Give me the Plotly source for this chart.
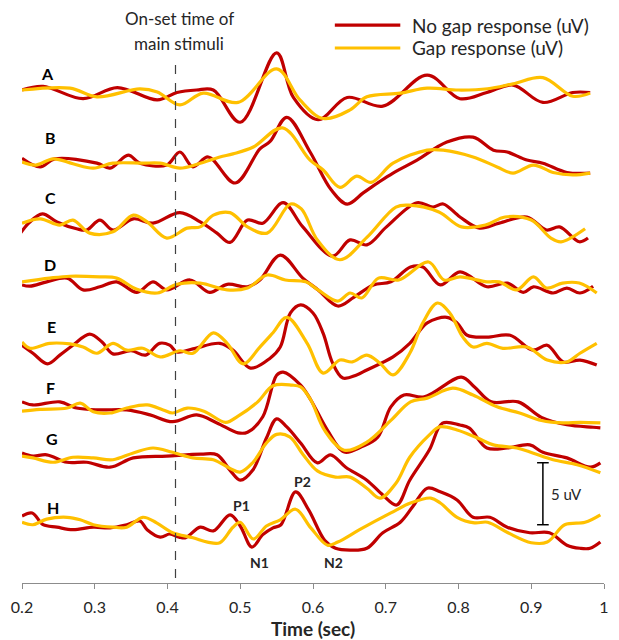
import plotly.graph_objects as go

# ---------------- data (uV relative to each row's baseline) ----------------
rows = ["A", "B", "C", "D", "E", "F", "G", "H"]
row_baseline_uV = [39.76, 34.11, 28.87, 24.19, 19.03, 14.11, 10.24, 4.60]

A_nogap_t = [0.200, 0.229, 0.284, 0.331, 0.386, 0.413, 0.440, 0.463, 0.500, 0.550, 0.573, 0.607, 0.647, 0.696, 0.757, 0.802, 0.839, 0.875, 0.916, 0.957, 0.981]
A_nogap_uV = [0.0, 0.3, -0.7, 0.2, -0.8, -0.2, 0.0, 0.0, -2.6, 3.0, -0.6, -2.4, -0.6, -1.3, 1.2, -0.7, -0.2, 0.4, -1.0, -0.2, -0.2]
A_gap_t = [0.200, 0.266, 0.303, 0.362, 0.386, 0.417, 0.449, 0.497, 0.550, 0.582, 0.614, 0.651, 0.674, 0.720, 0.757, 0.800, 0.840, 0.875, 0.916, 0.957, 0.981]
A_gap_uV = [0.0, 0.15, -0.55, 0.1, -0.15, -1.2, -0.25, -1.0, 1.7, -0.8, -2.3, -1.6, -0.55, -0.25, 0.15, 0.0, 0.1, 0.5, 1.0, -0.5, -0.25]

B_nogap_t = [0.200, 0.225, 0.245, 0.303, 0.321, 0.346, 0.362, 0.399, 0.417, 0.435, 0.456, 0.493, 0.527, 0.541, 0.564, 0.596, 0.625, 0.647, 0.669, 0.690, 0.710, 0.743, 0.784, 0.820, 0.848, 0.867, 0.894, 0.916, 0.949, 0.981]
B_nogap_uV = [0.15, -0.55, 0.1, -0.25, -0.65, 0.4, -0.25, -0.4, 0.65, -0.55, 0.25, -1.85, 0.9, 1.5, 3.45, 0.65, -2.4, -3.55, -2.65, -1.8, -1.05, 0.0, 1.45, 1.85, 0.8, 0.65, 0.0, -0.25, -1.0, -1.05]
B_gap_t = [0.200, 0.219, 0.243, 0.270, 0.298, 0.325, 0.366, 0.390, 0.417, 0.445, 0.472, 0.490, 0.518, 0.558, 0.596, 0.614, 0.637, 0.660, 0.680, 0.710, 0.757, 0.779, 0.820, 0.853, 0.875, 0.903, 0.930, 0.957, 0.981]
B_gap_uV = [-0.15, -0.4, 0.1, -0.3, -0.65, -0.25, -0.25, -0.25, -0.65, -0.25, 0.25, 0.5, 1.05, 2.6, 0.0, -0.8, -2.2, -1.3, -1.8, -0.25, 0.8, 0.8, 0.25, -0.55, -1.05, -0.4, -1.0, -1.2, -1.05]

C_nogap_t = [0.198, 0.210, 0.228, 0.248, 0.275, 0.289, 0.307, 0.325, 0.353, 0.380, 0.417, 0.445, 0.468, 0.486, 0.510, 0.531, 0.559, 0.586, 0.627, 0.651, 0.674, 0.701, 0.743, 0.765, 0.779, 0.802, 0.829, 0.856, 0.894, 0.921, 0.939, 0.966, 0.978]
C_nogap_uV = [-0.65, 0.2, 0.9, 0.25, -0.3, -0.4, 0.4, -0.4, 0.5, 0.15, 1.0, 0.25, -0.65, -1.4, 0.4, 0.15, 1.8, -0.15, -2.5, -1.2, -1.6, -0.15, 1.8, 1.45, 1.7, 0.65, -0.25, 0.15, 0.65, -0.4, -0.15, -1.35, -1.05]
C_gap_t = [0.200, 0.225, 0.252, 0.270, 0.293, 0.325, 0.353, 0.372, 0.399, 0.427, 0.445, 0.463, 0.486, 0.510, 0.537, 0.569, 0.584, 0.606, 0.637, 0.674, 0.714, 0.732, 0.773, 0.804, 0.837, 0.864, 0.900, 0.927, 0.941, 0.974]
C_gap_uV = [0.15, 0.5, 0.0, 0.4, -0.65, -0.55, 0.8, 0.25, -1.05, -0.25, -0.15, 0.8, 1.0, -0.15, -0.65, 1.7, 1.3, -1.2, -2.8, -1.0, 1.45, 1.6, 1.05, -0.15, 0.0, 0.65, 0.4, -1.05, -1.35, -0.3]

D_nogap_t = [0.200, 0.211, 0.234, 0.262, 0.284, 0.307, 0.330, 0.358, 0.380, 0.399, 0.431, 0.458, 0.482, 0.510, 0.527, 0.555, 0.586, 0.607, 0.634, 0.656, 0.683, 0.707, 0.734, 0.751, 0.775, 0.802, 0.839, 0.867, 0.889, 0.903, 0.930, 0.949, 0.967, 0.985]
D_nogap_uV = [-0.15, -0.25, 0.1, 0.4, -0.55, -0.3, 0.1, -0.75, 0.1, -0.55, 0.25, -0.75, -0.1, -0.3, 0.25, 2.25, 0.4, -0.55, -1.85, -1.15, -0.15, 0.1, 1.3, 1.3, -0.15, 0.9, -0.3, 0.0, -0.75, -0.3, -0.8, -0.4, -0.8, -0.25]
D_gap_t = [0.200, 0.238, 0.266, 0.307, 0.330, 0.358, 0.386, 0.413, 0.445, 0.482, 0.510, 0.537, 0.562, 0.590, 0.607, 0.634, 0.651, 0.667, 0.690, 0.718, 0.759, 0.780, 0.802, 0.839, 0.856, 0.880, 0.903, 0.921, 0.943, 0.966, 0.990]
D_gap_uV = [0.1, 0.4, 0.55, 0.5, 0.4, -0.5, -0.8, -0.1, 0.0, -0.55, -0.4, 0.65, 0.25, 0.1, -0.55, -1.45, -0.8, -1.2, 0.4, 0.25, 1.7, 0.25, 0.5, 0.1, 0.1, -0.55, 0.5, -0.4, 0.0, 0.0, -0.8]

E_nogap_t = [0.200, 0.215, 0.235, 0.252, 0.270, 0.293, 0.310, 0.325, 0.350, 0.370, 0.389, 0.403, 0.413, 0.435, 0.472, 0.490, 0.514, 0.541, 0.555, 0.569, 0.583, 0.600, 0.614, 0.627, 0.641, 0.660, 0.674, 0.710, 0.733, 0.757, 0.784, 0.798, 0.812, 0.839, 0.871, 0.902, 0.922, 0.944, 0.967, 0.990]
E_nogap_uV = [0.15, -0.5, -1.35, -0.65, 0.15, 1.05, 0.4, -0.55, -0.3, -0.65, 0.3, 0.15, -0.4, -0.15, 0.3, -0.25, -1.7, -0.9, 0.0, 2.75, 3.4, 2.75, 1.1, -1.3, -2.5, -2.25, -1.85, -0.8, 0.3, 1.95, 2.4, 1.95, 0.95, 0.8, 0.95, -0.25, 0.15, -1.2, -1.05, -1.45]
E_gap_t = [0.200, 0.211, 0.238, 0.266, 0.284, 0.303, 0.325, 0.344, 0.366, 0.390, 0.417, 0.435, 0.463, 0.482, 0.504, 0.527, 0.545, 0.564, 0.592, 0.614, 0.637, 0.654, 0.674, 0.692, 0.710, 0.733, 0.751, 0.771, 0.788, 0.806, 0.820, 0.839, 0.861, 0.894, 0.922, 0.949, 0.967, 0.990]
E_gap_uV = [0.4, -0.1, 0.3, 0.25, 0.0, -0.5, 0.3, -0.25, -0.1, -0.8, -0.3, -0.5, 1.15, 0.3, -1.35, 0.0, 1.15, 2.4, 0.3, -2.1, -1.05, -1.2, -0.65, -1.3, -2.25, -0.5, 1.95, 3.55, 2.75, 0.8, 0.0, 0.3, -0.1, 0.0, -1.05, -1.2, -0.5, 0.3]

F_nogap_t = [0.200, 0.215, 0.252, 0.275, 0.307, 0.344, 0.376, 0.407, 0.440, 0.468, 0.497, 0.510, 0.531, 0.550, 0.559, 0.583, 0.597, 0.620, 0.643, 0.666, 0.689, 0.707, 0.725, 0.753, 0.804, 0.822, 0.845, 0.882, 0.914, 0.949, 0.985, 0.995]
F_nogap_uV = [0.5, 0.25, 0.5, 0.0, -0.15, -0.15, -0.55, -1.1, -0.55, -1.2, -2.0, -1.95, -0.7, 2.65, 2.9, 1.85, 0.65, -1.8, -3.55, -3.15, -2.35, 0.1, 1.05, 0.9, 2.5, 1.7, 0.5, 0.5, -0.75, -1.35, -1.55, -1.6]
F_gap_t = [0.200, 0.225, 0.262, 0.280, 0.298, 0.321, 0.344, 0.372, 0.394, 0.407, 0.427, 0.450, 0.480, 0.497, 0.524, 0.545, 0.571, 0.583, 0.597, 0.616, 0.643, 0.674, 0.707, 0.734, 0.757, 0.792, 0.820, 0.853, 0.884, 0.914, 0.944, 0.967, 0.995]
F_gap_uV = [-0.25, -0.1, 0.0, 0.4, -0.3, -0.4, 0.0, 0.25, -0.15, -0.4, 0.0, -0.25, -1.15, -0.65, 0.5, 1.8, 1.85, 1.7, 0.65, -1.8, -3.4, -2.75, -1.0, 0.5, 0.8, 1.6, 1.05, 0.1, -0.4, -1.0, -1.2, -1.15, -1.2]

G_nogap_t = [0.200, 0.215, 0.234, 0.262, 0.289, 0.321, 0.353, 0.399, 0.446, 0.468, 0.486, 0.500, 0.517, 0.536, 0.550, 0.564, 0.583, 0.606, 0.624, 0.645, 0.674, 0.696, 0.715, 0.733, 0.760, 0.778, 0.802, 0.815, 0.839, 0.867, 0.898, 0.916, 0.949, 0.981, 0.995]
G_nogap_uV = [0.25, 0.0, 0.1, -0.5, -0.5, -0.9, -0.15, 0.0, 0.15, 0.1, -1.15, -1.95, -1.15, 1.45, 3.0, 2.35, 1.05, -0.55, 0.1, -0.9, -1.95, -3.15, -3.95, -1.95, 0.5, 2.65, 2.5, 2.25, 0.65, 0.65, 0.9, 0.3, -0.15, -0.9, -0.55]
G_gap_t = [0.200, 0.215, 0.243, 0.270, 0.298, 0.325, 0.353, 0.380, 0.407, 0.435, 0.463, 0.486, 0.500, 0.517, 0.536, 0.550, 0.568, 0.586, 0.606, 0.631, 0.651, 0.674, 0.692, 0.714, 0.733, 0.760, 0.774, 0.798, 0.826, 0.848, 0.880, 0.902, 0.930, 0.963, 0.995]
G_gap_uV = [0.0, -0.15, -0.5, -0.1, -0.15, -0.3, 0.25, 0.65, 0.3, -0.15, -0.3, -1.0, -1.3, -0.55, 1.05, 1.75, 1.55, 0.15, -1.2, -1.7, -1.7, -2.6, -3.4, -2.2, -0.1, 1.7, 2.35, 2.1, 1.45, 0.9, 0.65, 0.25, -0.3, -0.7, -1.35]

H_nogap_t = [0.200, 0.214, 0.229, 0.248, 0.270, 0.298, 0.321, 0.344, 0.362, 0.372, 0.390, 0.403, 0.416, 0.425, 0.445, 0.463, 0.486, 0.500, 0.516, 0.531, 0.545, 0.556, 0.576, 0.594, 0.616, 0.631, 0.651, 0.674, 0.696, 0.720, 0.737, 0.757, 0.775, 0.798, 0.820, 0.843, 0.867, 0.898, 0.925, 0.949, 0.967, 0.981, 0.995]
H_nogap_uV = [0.8, 1.05, 0.1, -0.1, -0.3, -0.1, -0.15, 0.1, 0.4, -0.3, -0.9, -0.65, -0.9, -0.95, -0.1, -0.4, 0.9, 0.0, -1.7, -0.7, -0.15, 0.1, 2.75, 1.3, -1.15, -1.8, -1.95, -1.8, -0.55, 0.3, 1.55, 3.05, 2.75, 2.1, 0.7, 0.7, -0.1, -0.55, -0.55, -1.55, -1.8, -1.8, -1.3]
H_gap_t = [0.200, 0.215, 0.234, 0.262, 0.280, 0.298, 0.325, 0.344, 0.366, 0.385, 0.407, 0.435, 0.455, 0.472, 0.490, 0.500, 0.518, 0.536, 0.555, 0.576, 0.597, 0.620, 0.634, 0.664, 0.707, 0.734, 0.762, 0.775, 0.798, 0.822, 0.840, 0.868, 0.900, 0.922, 0.946, 0.974, 0.995]
H_gap_uV = [0.3, 0.1, 0.55, 0.7, 0.5, 0.1, -0.1, -0.1, 0.7, 0.25, -0.55, -0.95, -1.3, -1.35, -0.1, 0.3, -1.05, 0.0, 0.5, 1.35, -0.15, -1.55, -1.3, -0.3, 1.05, 1.85, 2.25, 1.85, 0.7, 0.25, 0.3, -0.55, -1.35, -1.3, 0.1, 0.3, 0.9]

x_tick_values = [0.2, 0.3, 0.4, 0.5, 0.6, 0.7, 0.8, 0.9, 1.0]
x_tick_labels = ["0.2", "0.3", "0.4", "0.5", "0.6", "0.7", "0.8", "0.9", "1"]
onset_time = 0.411
scale_bar_uV = 5
series_names = ["No gap response (uV)", "Gap response (uV)"]

# ---------------- styling ----------------
RED = "#C00000"
YELLOW = "#FFC000"
FONT = "Lato"
LW = 3.2
TXT = "#262626"

nogap_t = [A_nogap_t, B_nogap_t, C_nogap_t, D_nogap_t, E_nogap_t, F_nogap_t, G_nogap_t, H_nogap_t]
nogap_v = [A_nogap_uV, B_nogap_uV, C_nogap_uV, D_nogap_uV, E_nogap_uV, F_nogap_uV, G_nogap_uV, H_nogap_uV]
gap_t = [A_gap_t, B_gap_t, C_gap_t, D_gap_t, E_gap_t, F_gap_t, G_gap_t, H_gap_t]
gap_v = [A_gap_uV, B_gap_uV, C_gap_uV, D_gap_uV, E_gap_uV, F_gap_uV, G_gap_uV, H_gap_uV]

fig = go.Figure()
for i, name in enumerate(rows):
    base = row_baseline_uV[i]
    fig.add_trace(go.Scatter(
        x=nogap_t[i], y=[base + v for v in nogap_v[i]], mode="lines",
        line=dict(color=RED, width=LW, shape="spline", smoothing=1.0),
        name=series_names[0] + " " + name, showlegend=False, hoverinfo="skip"))
    fig.add_trace(go.Scatter(
        x=gap_t[i], y=[base + v for v in gap_v[i]], mode="lines",
        line=dict(color=YELLOW, width=LW, shape="spline", smoothing=1.0),
        name=series_names[1] + " " + name, showlegend=False, hoverinfo="skip"))

shapes = []
# on-set dashed line
shapes.append(dict(type="line", xref="x", yref="y", x0=onset_time, x1=onset_time,
                   y0=0.4, y1=42.3, line=dict(color="#404040", width=1.2, dash="dash")))
# scale bar
sb_x = 0.916
sb_y0 = 4.7
sb_y1 = sb_y0 + scale_bar_uV
shapes.append(dict(type="line", xref="x", yref="y", x0=sb_x, x1=sb_x, y0=sb_y0, y1=sb_y1,
                   line=dict(color="black", width=1.5)))
for yy in (sb_y0, sb_y1):
    shapes.append(dict(type="line", xref="x", yref="y", x0=sb_x - 0.008, x1=sb_x + 0.008,
                       y0=yy, y1=yy, line=dict(color="black", width=1.5)))
# manual legend lines
leg_y = [45.0, 43.15]
for yy, col in zip(leg_y, [RED, YELLOW]):
    shapes.append(dict(type="line", xref="x", yref="y", x0=0.630, x1=0.720, y0=yy, y1=yy,
                       line=dict(color=col, width=LW)))

annotations = []
for yy, txt in zip(leg_y, series_names):
    annotations.append(dict(x=0.7334, y=yy, xref="x", yref="y", text=txt, showarrow=False,
                            xanchor="left", yanchor="middle",
                            font=dict(family=FONT, size=19, color=TXT)))
# row labels
label_x = [0.2357, 0.2385, 0.2385, 0.2385, 0.241, 0.2385, 0.241, 0.2426]
label_y = [41.13, 35.97, 31.13, 25.65, 20.65, 15.73, 11.69, 6.05]
for i, name in enumerate(rows):
    annotations.append(dict(x=label_x[i], y=label_y[i], xref="x", yref="y", text="<b>%s</b>" % name,
                            showarrow=False, xanchor="center", yanchor="middle",
                            font=dict(family=FONT, size=16, color="black")))
# peak labels
for txt, xx, yy in [("P1", 0.502, 6.29), ("P2", 0.585, 8.15), ("N1", 0.527, 1.69), ("N2", 0.6275, 1.69)]:
    annotations.append(dict(x=xx, y=yy, xref="x", yref="y", text="<b>%s</b>" % txt,
                            showarrow=False, xanchor="center", yanchor="middle",
                            font=dict(family=FONT, size=14, color=TXT)))
# scale label
annotations.append(dict(x=sb_x + 0.009, y=(sb_y0 + sb_y1) / 2, xref="x", yref="y", text="%d uV" % scale_bar_uV,
                        showarrow=False, xanchor="left", yanchor="middle",
                        font=dict(family=FONT, size=15, color=TXT)))
# onset text
annotations.append(dict(x=0.416, y=45.56, xref="x", yref="y", text="On-set time of",
                        showarrow=False, xanchor="center", yanchor="middle",
                        font=dict(family=FONT, size=17, color=TXT)))
annotations.append(dict(x=0.416, y=43.55, xref="x", yref="y", text="main stimuli",
                        showarrow=False, xanchor="center", yanchor="middle",
                        font=dict(family=FONT, size=17, color=TXT)))

fig.update_layout(
    width=619, height=640,
    margin=dict(l=22, r=15, t=0, b=57),
    plot_bgcolor="white", paper_bgcolor="white",
    showlegend=False,
    shapes=shapes, annotations=annotations,
    font=dict(family=FONT, color=TXT),
    xaxis=dict(range=[0.2, 1.0], tickvals=x_tick_values, ticktext=x_tick_labels,
               showgrid=False, zeroline=False, showline=True, linecolor="#8c8c8c", linewidth=1,
               ticks="outside", ticklen=5, tickcolor="#8c8c8c", ticklabelstandoff=5,
               tickfont=dict(family=FONT, size=16, color=TXT),
               title=dict(text="<b>Time (sec)</b>", font=dict(family=FONT, size=19, color=TXT), standoff=8),
               automargin=False),
    yaxis=dict(range=[0, 47.02], visible=False, fixedrange=True),
)

fig.write_html("out.html", config={"displayModeBar": False},
               post_script="document.body.style.margin='0px';")
